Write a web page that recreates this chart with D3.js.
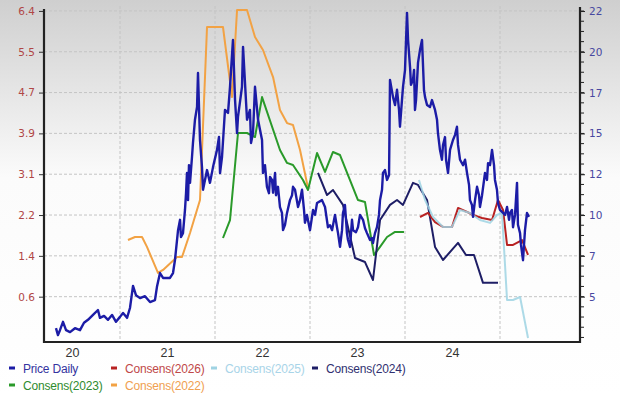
<!DOCTYPE html>
<html>
<head>
<meta charset="utf-8">
<script src="https://cdn.jsdelivr.net/npm/d3@7"></script>
<style>
  body { margin: 0; background: #fff; }
  svg { display: block; }
  .ylab { font-family: "DejaVu Sans", Verdana, sans-serif; font-size: 10.5px; }
  .xlab { font-family: "Liberation Sans", Arial, sans-serif; font-size: 12.5px; fill: #333; }
  .leg { font-family: "Liberation Sans", Arial, sans-serif; font-size: 12px; letter-spacing: -0.2px; }
</style>
</head>
<body>
<script>
// values; x is a decimal year
var priceDaily = [
  [2020.326,-0.04],[2020.347,-0.18],[2020.368,-0.08],[2020.400,0.09],[2020.432,-0.08],[2020.474,-0.12],
  [2020.526,-0.04],[2020.579,-0.08],[2020.621,0.07],[2020.663,0.13],[2020.716,0.23],[2020.768,0.33],
  [2020.789,0.17],[2020.832,0.21],[2020.874,0.13],[2020.916,0.23],[2020.958,0.09],[2021.000,0.19],
  [2021.032,0.27],[2021.074,0.17],[2021.105,0.37],[2021.137,0.82],[2021.168,0.63],[2021.211,0.57],
  [2021.263,0.61],[2021.316,0.49],[2021.368,0.53],[2021.389,0.80],[2021.421,1.08],[2021.453,0.98],
  [2021.526,0.98],[2021.558,1.08],[2021.579,1.35],[2021.611,1.95],[2021.632,2.16],[2021.642,1.81],
  [2021.663,1.89],[2021.684,2.36],[2021.695,2.70],[2021.705,3.11],[2021.716,2.56],[2021.726,3.27],
  [2021.737,2.91],[2021.758,3.44],[2021.768,3.72],[2021.789,4.19],[2021.811,4.45],[2021.821,5.14],
  [2021.842,3.78],[2021.863,3.23],[2021.874,2.77],[2021.916,3.17],[2021.947,2.91],[2021.979,3.23],
  [2022.021,3.58],[2022.042,3.84],[2022.053,3.11],[2022.074,3.44],[2022.105,4.39],[2022.137,4.33],
  [2022.158,4.86],[2022.189,5.81],[2022.211,4.59],[2022.232,3.92],[2022.242,4.25],[2022.284,4.86],
  [2022.295,5.67],[2022.337,4.19],[2022.368,4.39],[2022.379,3.72],[2022.400,3.92],[2022.421,4.86],
  [2022.453,4.19],[2022.495,3.78],[2022.505,3.11],[2022.526,3.27],[2022.547,2.83],[2022.568,2.70],
  [2022.579,3.03],[2022.600,2.97],[2022.611,2.71],[2022.632,3.11],[2022.642,2.66],[2022.663,2.83],
  [2022.684,2.42],[2022.705,2.30],[2022.716,1.95],[2022.737,2.06],[2022.758,2.30],[2022.789,2.56],
  [2022.811,2.66],[2022.821,2.83],[2022.842,2.77],[2022.874,2.42],[2022.895,2.56],[2022.916,2.77],
  [2022.937,2.36],[2022.947,2.10],[2022.968,2.26],[2023.000,1.95],[2023.032,2.36],[2023.053,2.26],
  [2023.074,2.50],[2023.126,2.56],[2023.158,2.42],[2023.189,2.01],[2023.211,2.05],[2023.232,1.95],
  [2023.263,2.26],[2023.284,2.01],[2023.295,1.89],[2023.316,1.61],[2023.337,1.95],[2023.347,2.30],
  [2023.368,2.46],[2023.389,1.89],[2023.400,1.75],[2023.421,1.61],[2023.442,2.16],[2023.453,1.95],
  [2023.484,1.91],[2023.505,2.01],[2023.526,2.26],[2023.558,2.16],[2023.579,1.99],[2023.600,1.89],
  [2023.632,1.75],[2023.653,1.79],[2023.663,1.69],[2023.684,1.89],[2023.705,2.01],[2023.726,2.26],
  [2023.737,2.56],[2023.758,2.77],[2023.768,3.11],[2023.789,3.17],[2023.811,2.97],[2023.832,3.07],
  [2023.842,5.00],[2023.874,4.65],[2023.895,4.49],[2023.916,4.80],[2023.937,4.39],[2023.947,4.05],
  [2023.968,4.59],[2023.979,4.86],[2024.000,5.20],[2024.021,6.36],[2024.032,5.81],[2024.053,5.26],
  [2024.063,4.90],[2024.084,5.00],[2024.095,5.20],[2024.105,4.39],[2024.116,4.59],[2024.137,5.35],
  [2024.158,5.61],[2024.179,5.81],[2024.200,4.79],[2024.211,4.65],[2024.232,4.49],[2024.263,4.45],
  [2024.284,4.59],[2024.316,4.39],[2024.337,4.19],[2024.347,3.92],[2024.368,3.58],[2024.389,3.38],
  [2024.400,3.68],[2024.421,3.84],[2024.432,3.38],[2024.453,3.11],[2024.474,3.58],[2024.505,3.78],
  [2024.526,3.88],[2024.547,4.05],[2024.558,3.68],[2024.579,3.38],[2024.611,3.27],[2024.632,3.38],
  [2024.653,3.11],[2024.674,2.87],[2024.684,2.56],[2024.705,2.46],[2024.716,2.22],[2024.737,2.56],
  [2024.758,2.83],[2024.779,2.66],[2024.789,2.42],[2024.811,2.66],[2024.842,3.11],[2024.863,2.97],
  [2024.874,3.31],[2024.895,3.27],[2024.916,3.58],[2024.937,3.27],[2024.947,2.97],[2024.968,2.77],
  [2024.979,2.50],[2025.000,2.36],[2025.032,2.30],[2025.053,2.26],[2025.074,2.42],[2025.095,2.16],
  [2025.105,2.30],[2025.126,2.36],[2025.137,2.01],[2025.158,2.26],[2025.179,2.91],[2025.189,2.06],
  [2025.211,1.89],[2025.221,1.65],[2025.242,1.34],[2025.263,1.95],[2025.284,2.30],[2025.305,2.22]
];

var consens2022 = [
  [2021.084,8.37],[2021.158,8.55],[2021.232,8.55],[2021.284,7.96],[2021.400,6.41],[2021.453,6.59],
  [2021.600,7.36],[2021.653,7.36],[2021.737,8.79],[2021.842,10.75],[2021.916,21.05],[2022.084,21.05],
  [2022.179,16.88],[2022.232,22.06],[2022.337,22.06],[2022.421,20.45],[2022.505,19.68],[2022.611,18.07],
  [2022.684,16.11],[2022.758,15.33],[2022.821,15.22],[2022.895,13.73],[2022.979,11.47]
];

var consens2023 = [
  [2022.084,8.49],[2022.158,9.56],[2022.242,14.74],[2022.337,14.74],[2022.421,14.50],[2022.495,16.88],
  [2022.684,13.73],[2022.758,12.96],[2022.821,12.84],[2022.926,11.94],[2022.979,11.35],[2023.074,13.55],
  [2023.158,12.42],[2023.242,13.61],[2023.316,13.43],[2023.421,11.94],[2023.505,10.75],[2023.579,10.63],
  [2023.674,7.48],[2023.737,7.96],[2023.811,8.55],[2023.895,8.85],[2023.989,8.85]
];

var consens2024 = [
  [2023.084,12.36],[2023.179,11.05],[2023.242,11.35],[2023.347,10.46],[2023.474,7.30],[2023.579,7.06],
  [2023.663,5.99],[2023.737,9.56],[2023.842,10.46],[2023.916,10.75],[2023.979,10.46],[2024.084,11.77],
  [2024.137,11.65],[2024.232,10.75],[2024.316,7.96],[2024.400,7.18],[2024.558,8.20],[2024.642,7.48],
  [2024.726,7.48],[2024.821,5.82],[2024.979,5.82]
];

var consens2025 = [
  [2024.147,11.94],[2024.211,10.75],[2024.295,9.74],[2024.400,9.15],[2024.495,9.15],[2024.579,10.16],
  [2024.684,9.98],[2024.789,9.56],[2024.895,9.39],[2024.968,9.86],[2025.021,9.98],[2025.074,4.80],
  [2025.137,4.80],[2025.211,4.98],[2025.295,2.54]
];

var consens2026 = [
  [2024.158,9.74],[2024.242,9.98],[2024.316,9.44],[2024.400,9.15],[2024.495,9.15],[2024.558,10.28],
  [2024.653,10.04],[2024.716,9.86],[2024.811,9.68],[2024.916,9.56],[2024.979,10.75],[2025.032,10.16],
  [2025.074,8.08],[2025.137,8.08],[2025.232,8.37],[2025.295,7.48]
];

var leftTickLabels = ["0.6", "1.4", "2.2", "3.1", "3.9", "4.7", "5.5", "6.4"];
var rightTickLabels = ["5", "7", "10", "12", "15", "17", "20", "22"];
var yearLabels = ["20", "21", "22", "23", "24"];
var yearLines = [2021, 2022, 2023, 2024, 2025];

var series = [
  {name: "Consens(2022)", data: consens2022, color: "#f2a244", text: "#f0a050", axis: "right", op: 1},
  {name: "Consens(2023)", data: consens2023, color: "#2a9a2a", text: "#2e8b2e", axis: "right", op: 1},
  {name: "Consens(2024)", data: consens2024, color: "#1e1e66", text: "#303070", axis: "right", op: 1},
  {name: "Consens(2026)", data: consens2026, color: "#b82222", text: "#c04848", axis: "right", op: 1},
  {name: "Consens(2025)", data: consens2025, color: "#9fd3e3", text: "#a8d4e8", axis: "right", op: 0.85},
  {name: "Price Daily", data: priceDaily, color: "#1c1ca6", text: "#3434a0", axis: "left", op: 1}
];

var legendOrder = ["Price Daily", "Consens(2026)", "Consens(2025)", "Consens(2024)", "Consens(2023)", "Consens(2022)"];

var width = 620, height = 395;
var margin = {top: 6, right: 40, bottom: 53, left: 44};
var plotW = width - margin.left - margin.right,
    plotH = height - margin.top - margin.bottom;

var x = d3.scaleLinear().domain([2020.2, 2025.842]).range([0, plotW]);
var yL = d3.scaleLinear().domain([-0.32, 6.5]).range([plotH, 0]);
var yR = d3.scaleLinear().domain([2.30, 22.30]).range([plotH, 0]);

var leftTicks = leftTickLabels.map(function(d, i) { return 0.6 + i * (6.4 - 0.6) / 7; });
var rightTicks = rightTickLabels.map(function(d, i) { return 5 + i * (22 - 5) / 7; });
var rightMinor = d3.range(0, 29 + 4).map(function(i) { return 5 + (i - 4) * (22 - 5) / 28; })
  .filter(function(v) { return v > 2.4 && v < 22.3; });

var svg = d3.select("body").append("svg")
    .attr("width", width)
    .attr("height", height);

var grad = svg.append("defs").append("linearGradient")
    .attr("id", "bg").attr("x1", 0).attr("y1", 0).attr("x2", 0).attr("y2", 1);
grad.append("stop").attr("offset", "0%").attr("stop-color", "#cfcfcf");
grad.append("stop").attr("offset", "45%").attr("stop-color", "#fbfbfb");
grad.append("stop").attr("offset", "100%").attr("stop-color", "#ffffff");

svg.append("rect").attr("width", width).attr("height", height).attr("fill", "url(#bg)");

var g = svg.append("g")
    .attr("transform", "translate(" + margin.left + "," + margin.top + ")");

// grid
g.selectAll(".hgrid").data(leftTicks).enter().append("line")
    .attr("x1", 0).attr("x2", plotW)
    .attr("y1", function(d) { return yL(d); }).attr("y2", function(d) { return yL(d); })
    .attr("stroke", "#c4c4c4").attr("stroke-dasharray", "3,2");

g.selectAll(".vgrid").data(yearLines).enter().append("line")
    .attr("y1", 0).attr("y2", plotH)
    .attr("x1", function(d) { return x(d); }).attr("x2", function(d) { return x(d); })
    .attr("stroke", "#c4c4c4").attr("stroke-dasharray", "3,2");

// lines
var line = function(sc) {
  return d3.line().x(function(d) { return x(d[0]); }).y(function(d) { return sc(d[1]); });
};

g.selectAll(".series").data(series).enter().append("path")
    .attr("fill", "none")
    .attr("stroke", function(d) { return d.color; })
    .attr("stroke-opacity", function(d) { return d.op; })
    .attr("stroke-width", function(d) { return d.axis == "left" ? 2.4 : 2; })
    .attr("stroke-linejoin", "round")
    .attr("d", function(d) { return line(d.axis == "left" ? yL : yR)(d.data); });

// axes
var leftAxis = g.append("g")
    .call(d3.axisLeft(yL).tickValues(leftTicks).tickSize(5).tickPadding(4)
      .tickFormat(function(d, i) { return leftTickLabels[i]; }));
leftAxis.select(".domain").remove();
leftAxis.selectAll("line").attr("stroke", "#333");
leftAxis.selectAll("text").attr("class", "ylab").attr("fill", "#b04646");

var rightAxis = g.append("g").attr("transform", "translate(" + plotW + ",0)")
    .call(d3.axisRight(yR).tickValues(rightTicks).tickSize(5).tickPadding(4)
      .tickFormat(function(d, i) { return rightTickLabels[i]; }));
rightAxis.select(".domain").remove();
rightAxis.selectAll("line").attr("stroke", "#222");
rightAxis.selectAll("text").attr("class", "ylab").attr("fill", "#4848a0");

g.append("g").attr("transform", "translate(" + plotW + ",0)")
  .selectAll("line").data(rightMinor).enter().append("line")
    .attr("x1", 0).attr("x2", 4)
    .attr("y1", function(d) { return yR(d); }).attr("y2", function(d) { return yR(d); })
    .attr("stroke", "#222");

g.append("path")
    .attr("d", "M0,3V" + plotH + "H" + plotW + "V1")
    .attr("fill", "none").attr("stroke", "#222").attr("stroke-width", 2.2);

g.selectAll(".xlab").data(yearLabels).enter().append("text")
    .attr("class", "xlab")
    .attr("x", function(d) { return x(2000 + (+d) + 0.5); })
    .attr("y", plotH + 15)
    .attr("text-anchor", "middle")
    .text(function(d) { return d; });

// legend
var legPos = [[12, 368], [114, 368], [214, 368], [315, 368], [12, 385], [114, 385]];
var leg = svg.selectAll(".legitem").data(legendOrder).enter().append("g")
    .attr("transform", function(d, i) { return "translate(" + legPos[i][0] + "," + legPos[i][1] + ")"; });
leg.append("line")
    .attr("x1", -3).attr("x2", 3).attr("y1", 0).attr("y2", 0)
    .attr("stroke-width", 3)
    .attr("stroke", function(d) { return series.find(function(s) { return s.name == d; }).color; });
leg.append("text")
    .attr("class", "leg")
    .attr("x", 11).attr("y", 4.5)
    .attr("fill", function(d) { return series.find(function(s) { return s.name == d; }).text; })
    .text(function(d) { return d; });
</script>
</body>
</html>
